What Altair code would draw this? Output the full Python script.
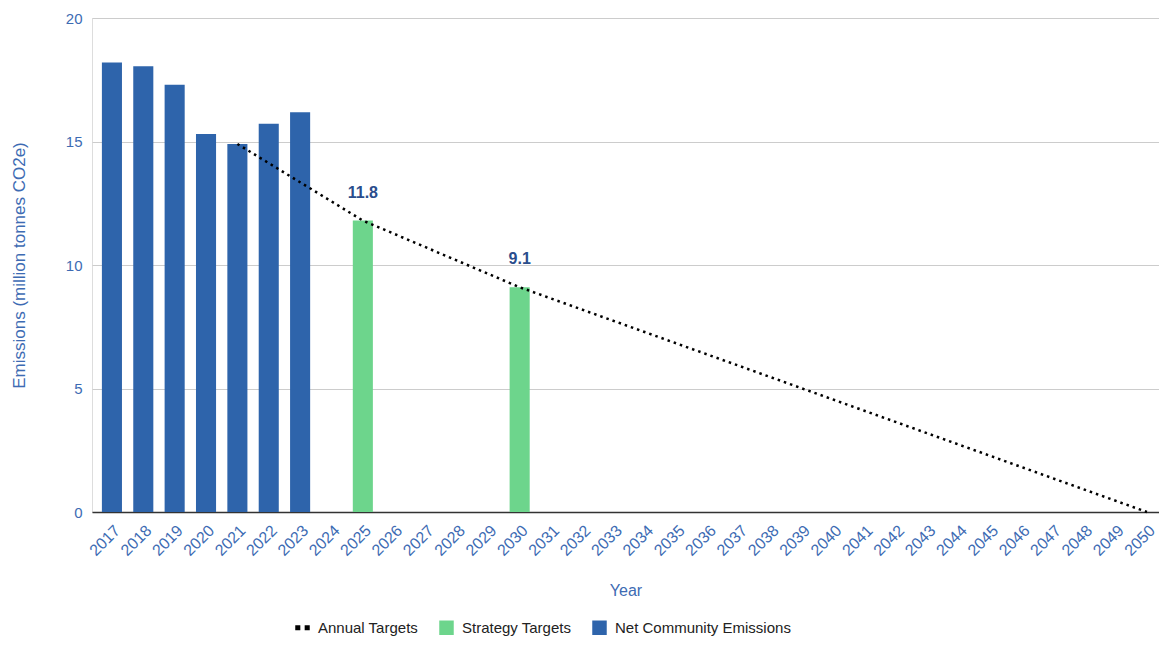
import altair as alt
import pandas as pd

# ---- data ----
all_years = [str(y) for y in range(2017, 2051)]

net_years = ["2017", "2018", "2019", "2020", "2021", "2022", "2023"]
net_values = [18.2, 18.05, 17.3, 15.3, 14.9, 15.72, 16.18]

strategy_years = ["2025", "2030"]
strategy_values = [11.8, 9.1]
strategy_labels = ["11.8", "9.1"]

annual_years = ["2021", "2025", "2030", "2050"]
annual_values = [14.9, 11.8, 9.1, 0.0]

series_names = ["Annual Targets", "Strategy Targets", "Net Community Emissions"]
series_colors = ["#000000", "#6dd58c", "#2e64ab"]

AXIS_BLUE = "#3d6bb3"
LABEL_BLUE = "#2a4d8c"
FONT = "Liberation Sans, Arial, sans-serif"

bars_df = pd.DataFrame({
    "year": net_years + strategy_years,
    "value": net_values + strategy_values,
    "series": ["Net Community Emissions"] * len(net_years) + ["Strategy Targets"] * len(strategy_years),
})
line_df = pd.DataFrame({"year": annual_years, "value": annual_values})
label_df = pd.DataFrame({"year": strategy_years, "value": strategy_values, "label": strategy_labels})

x_enc = alt.X(
    "year:N",
    scale=alt.Scale(domain=all_years, paddingInner=0.36, paddingOuter=0.19, align=0.83),
    sort=all_years,
    axis=alt.Axis(
        title="Year", titleColor=AXIS_BLUE, titleFontSize=16, titleFontWeight="normal",
        titleFont=FONT, titlePadding=24,
        labelAngle=-45, labelColor=AXIS_BLUE, labelFontSize=16, labelFont=FONT,
        labelPadding=10, ticks=False, grid=False,
        domainColor="#333333", domainWidth=1.5,
    ),
)
y_scale = alt.Scale(domain=[0, 20], nice=False)
y_axis = alt.Axis(
    title="Emissions (million tonnes CO2e)", titleColor=AXIS_BLUE, titleFontSize=17,
    titleFontWeight="normal", titleFont=FONT, titlePadding=37,
    labelColor=AXIS_BLUE, labelFontSize=15, labelFont=FONT, labelPadding=10,
    values=[0, 5, 10, 15, 20], ticks=False, domain=False,
    gridColor="#cccccc", gridWidth=1,
)

double_sq = "M-1,-0.35H-0.3V0.35H-1Z M0.3,-0.35H1V0.35H0.3Z"
legend = alt.Legend(
    title=None, orient="none", legendX=203, legendY=602, direction="horizontal",
    symbolType={"expr": f"datum.value === 'Annual Targets' ? '{double_sq}' : 'square'"},
    symbolSize=210, symbolStrokeWidth=0, labelFontSize=15, labelColor="#222222",
    labelFont=FONT, labelLimit=0, columnPadding=20, labelOffset=8,
)

bars = alt.Chart(bars_df).mark_bar().encode(
    x=x_enc,
    y=alt.Y("value:Q", scale=y_scale, axis=y_axis),
    color=alt.Color("series:N", scale=alt.Scale(domain=series_names, range=series_colors), legend=legend),
)

line = alt.Chart(line_df).mark_line(
    color="black", strokeWidth=2.5, strokeDash=[2.5, 4]
).encode(
    x=alt.X("year:N", sort=all_years),
    y=alt.Y("value:Q"),
)

labels = alt.Chart(label_df).mark_text(
    fontWeight="bold", fontSize=16, color=LABEL_BLUE, dy=-28, baseline="middle", font=FONT
).encode(
    x=alt.X("year:N", sort=all_years),
    y=alt.Y("value:Q"),
    text="label:N",
)

chart = alt.layer(bars, line, labels).properties(
    width=1067, height=494,
    autosize=alt.AutoSizeParams(type="none"),
    padding={"left": 84, "top": 10, "right": 0, "bottom": 126},
).configure_view(stroke=None).configure(font=FONT, background="white")

chart.save("out.html", embed_options={"renderer": "svg", "actions": False})
